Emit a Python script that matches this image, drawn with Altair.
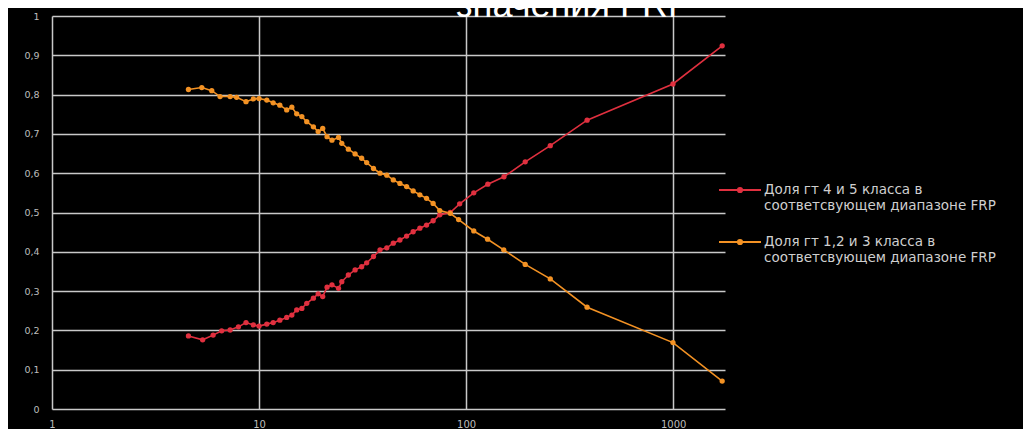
import altair as alt
import pandas as pd

# ---- data ----
red_name = "Доля гт 4 и 5 класса в соответсвующем  диапазоне FRP"
orange_name = "Доля гт 1,2 и 3 класса в соответсвующем  диапазоне FRP"

red_x = [4.56, 5.34, 6.0, 6.6, 7.25, 7.95, 8.65, 9.39, 10.0, 10.9, 11.7, 12.6, 13.6, 14.4,
         15.2, 16.1, 17.0, 18.3, 19.3, 20.3, 21.3, 22.5, 24.2, 25.1, 27.0, 29.1, 31.3, 33.1,
         35.7, 38.4, 41.4, 44.5, 47.9, 51.6, 55.5, 59.8, 64.4, 69.3, 74.6, 83.8, 93.1, 108.9,
         127.3, 152.4, 193, 255, 384, 998, 1725]
red_y = [0.186, 0.176, 0.188, 0.199, 0.201, 0.209, 0.220, 0.214, 0.211, 0.216, 0.220, 0.226,
         0.233, 0.239, 0.252, 0.256, 0.269, 0.282, 0.293, 0.286, 0.310, 0.316, 0.307, 0.324,
         0.341, 0.354, 0.362, 0.372, 0.388, 0.405, 0.410, 0.422, 0.430, 0.440, 0.451, 0.460,
         0.468, 0.479, 0.494, 0.500, 0.522, 0.550, 0.572, 0.591, 0.629, 0.670, 0.735, 0.827, 0.924]

orange_x = [4.56, 5.29, 5.91, 6.48, 7.25, 7.79, 8.65, 9.39, 10.0, 10.9, 11.7, 12.6, 13.6, 14.4,
            15.2, 16.1, 17.0, 18.3, 19.3, 20.3, 21.3, 22.5, 24.2, 25.1, 27.0, 29.1, 31.3, 33.1,
            35.7, 38.4, 41.4, 44.5, 47.9, 51.6, 55.5, 59.8, 64.4, 69.3, 74.6, 83.8, 92.0, 108.9,
            127.0, 152.0, 193, 255, 384, 998, 1725]
orange_y = [0.813, 0.818, 0.810, 0.795, 0.795, 0.793, 0.782, 0.789, 0.790, 0.786, 0.779, 0.773,
            0.761, 0.768, 0.751, 0.744, 0.731, 0.718, 0.706, 0.714, 0.693, 0.684, 0.691, 0.676,
            0.661, 0.649, 0.638, 0.627, 0.612, 0.600, 0.595, 0.583, 0.574, 0.566, 0.555, 0.545,
            0.536, 0.523, 0.505, 0.498, 0.482, 0.453, 0.432, 0.405, 0.368, 0.331, 0.259, 0.169, 0.071]

x_ticks = [1, 10, 100, 1000]
y_ticks = [0, 0.1, 0.2, 0.3, 0.4, 0.5, 0.6, 0.7, 0.8, 0.9, 1]
title_text = ["значения FRP"]

df = pd.concat([
    pd.DataFrame({"frp": red_x, "share": red_y, "series": red_name}),
    pd.DataFrame({"frp": orange_x, "share": orange_y, "series": orange_name}),
], ignore_index=True)
title_df = pd.DataFrame({"t": title_text})

grid_col = "#c9c9c9"
lab_col = "#bdbdbd"

legend = alt.Legend(
    title=None,
    orient="none",
    legendX=666,
    legendY=156,
    symbolType="M-1,-0.19H1M-0.1,-0.19A0.1,0.1,0,1,1,0.1,-0.19A0.1,0.1,0,1,1,-0.1,-0.19",
    symbolSize=1764,
    symbolStrokeWidth=2,
    labelExpr="[substring(datum.label, 0, indexof(datum.label, ' в ') + 2), substring(datum.label, indexof(datum.label, ' в ') + 3)]",
    labelFont="DejaVu Sans",
    labelFontSize=13.5,
    labelColor="#cfcfcf",
    labelBaseline="alphabetic",
    labelOffset=2,
    labelLimit=400,
    rowPadding=12,
)

lines = alt.Chart(df).mark_line(
    interpolate="linear", strokeWidth=1.6,
    point=alt.OverlayMarkDef(filled=True, size=28),
).encode(
    x=alt.X("frp:Q",
            scale=alt.Scale(type="log", domain=[1, 1780], nice=False),
            axis=alt.Axis(values=x_ticks, title=None, labelExpr="'' + datum.value",
                          grid=True, gridColor=grid_col, gridWidth=1.5, gridOpacity=1,
                          domain=False, ticks=False, labelColor=lab_col,
                          labelFont="DejaVu Sans", labelFontSize=10, labelPadding=10,
                          labelFlush=False)),
    y=alt.Y("share:Q",
            scale=alt.Scale(domain=[0, 1], nice=False),
            axis=alt.Axis(values=y_ticks, title=None,
                          labelExpr="replace(format(datum.value, '.1~f'), '.', ',')",
                          grid=True, gridColor=grid_col, gridWidth=1.5, gridOpacity=1,
                          domain=False, ticks=False, labelColor=lab_col,
                          labelFont="DejaVu Sans", labelFontSize=9.5, labelPadding=13,
                          labelFlush=False)),
    color=alt.Color("series:N",
                    scale=alt.Scale(domain=[red_name, orange_name],
                                    range=["#e0303f", "#f39224"]),
                    legend=legend),
)

title = alt.Chart(title_df).mark_text(
    color="white", font="Liberation Sans", fontSize=36, fontWeight="normal",
    align="center", baseline="alphabetic",
).encode(
    text="t:N",
    x=alt.value(522),
    y=alt.value(1),
)

chart = alt.layer(lines, title).properties(
    width=673,
    height=393,
    autosize=alt.AutoSizeParams(type="none"),
    padding={"left": 44, "top": 8, "right": 298, "bottom": 20},
).configure(
    background="black",
).configure_view(
    stroke=None,
)

chart.save("out.html", embed_options={"renderer": "svg", "actions": False})
